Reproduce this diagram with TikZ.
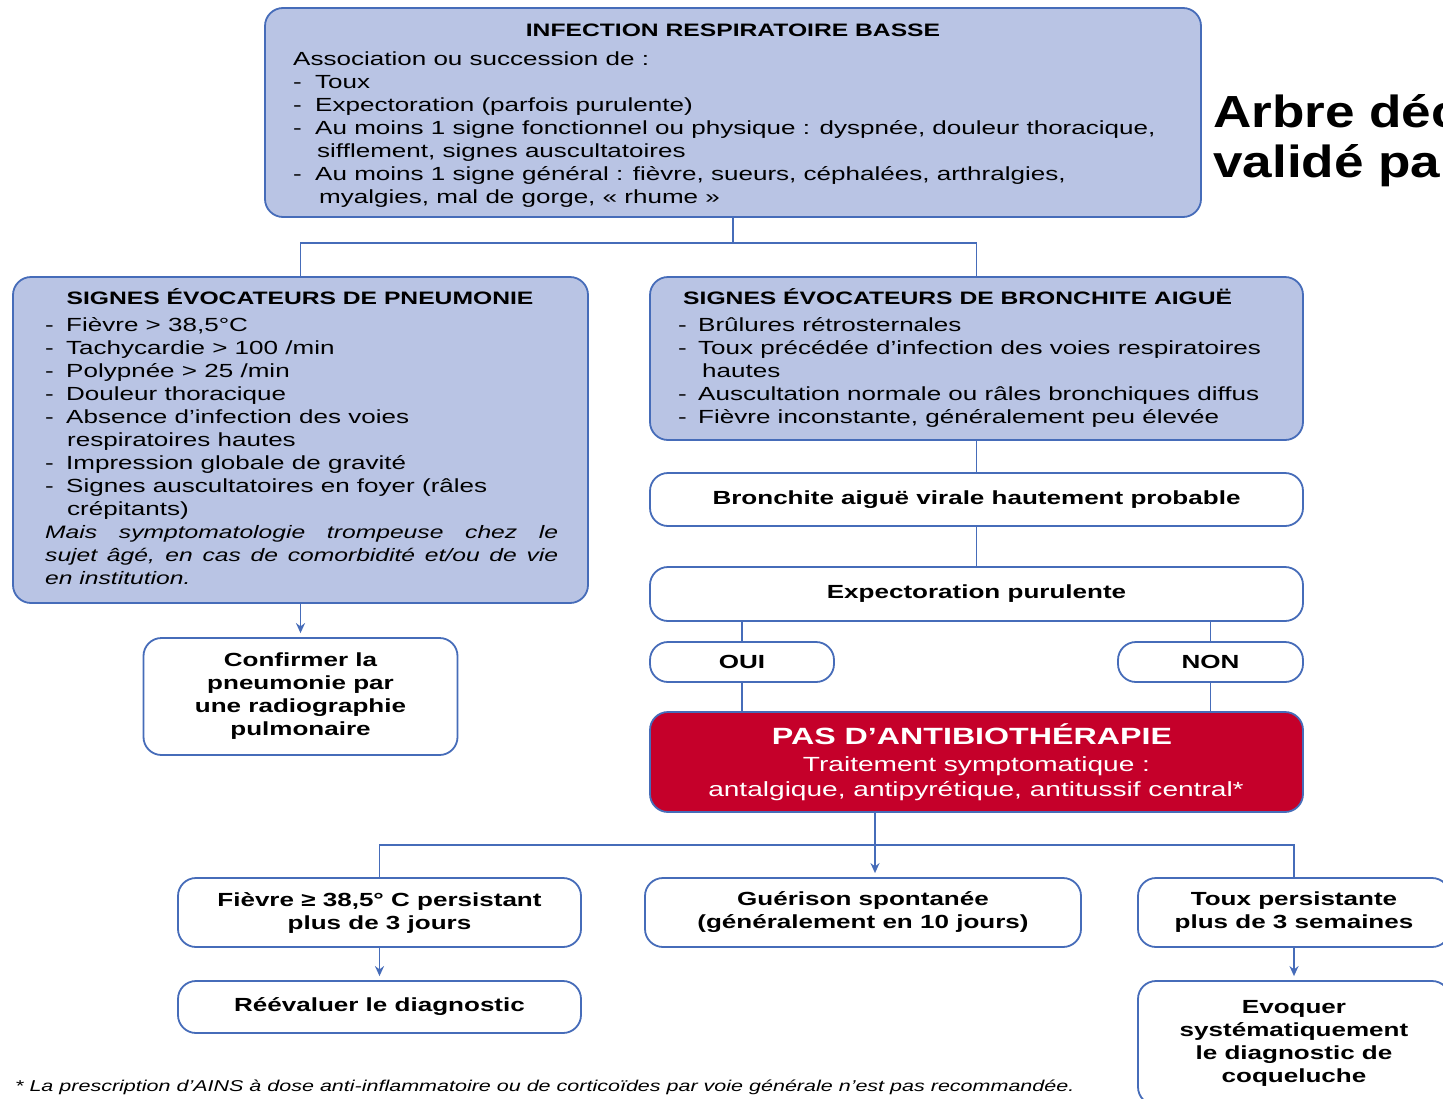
\documentclass[tikz,border=0pt]{standalone}
\usepackage{fontspec}
\setmainfont{Liberation Sans}[FakeStretch=1.37]
\newfontfamily\ttlfont{Liberation Sans}[FakeStretch=1.18]
\usetikzlibrary{arrows.meta}
\definecolor{bfill}{RGB}{185,196,228}
\definecolor{bline}{RGB}{70,108,185}
\definecolor{rfill}{RGB}{197,0,42}
\newcommand\dsh[1][21pt]{\makebox[#1][l]{-}}
\newcommand\ind[1][21pt]{\hspace*{#1}}
\newcommand\Ln[1]{\hbox{#1}}
\newcommand\Jl[1]{\hbox{\itshape\fontsize{18}{23}\selectfont\makebox[513pt][s]{#1}}}
\begin{document}
\begin{tikzpicture}[x=1pt,y=-1pt,
  bluebox/.style={draw=bline,fill=bfill,line width=1.8pt,rounded corners=18pt,inner sep=0pt},
  whitebox/.style={draw=bline,fill=white,line width=1.8pt,rounded corners=18pt,inner sep=0pt,align=center,font=\fontsize{19}{23}\selectfont\bfseries},
  redbox/.style={draw=bline,fill=rfill,line width=1.8pt,rounded corners=18pt,inner sep=0pt},
  conn/.style={draw=bline,line width=1.8pt},
  arr/.style={conn,-{Stealth[length=10pt,width=9pt]},shorten >=4pt},
  body/.style={inner sep=0pt,anchor=base west,font=\fontsize{19}{23}\selectfont},
  ttl/.style={inner sep=0pt,anchor=base,font=\fontsize{18}{22}\selectfont\bfseries},
]
\useasboundingbox (0,0) rectangle (1443,1098);
\fill[white] (0,0) rectangle (1443,1098);
\clip (0,0) rectangle (1443,1098);

% boxes
\node[bluebox,minimum width=936pt,minimum height=209pt] (top) at (733,112.5) {};
\node[bluebox,minimum width=575pt,minimum height=326pt] (pneu) at (300.5,440) {};
\node[bluebox,minimum width=653pt,minimum height=163pt] (bron) at (976.5,358.5) {};
\node[whitebox,minimum width=314pt,minimum height=117pt] (conf) at (300.5,696.5) {Confirmer la\\pneumonie par\\une radiographie\\pulmonaire};
\node[whitebox,minimum width=653pt,minimum height=53pt] (bvir) at (976.5,499.5) {Bronchite aiguë virale hautement probable};
\node[whitebox,minimum width=653pt,minimum height=54pt] (expe) at (976.5,594) {Expectoration purulente};
\node[whitebox,minimum width=184pt,minimum height=40pt] (oui) at (742,662) {OUI};
\node[whitebox,minimum width=185pt,minimum height=40pt] (non) at (1210.5,662) {NON};
\node[redbox,minimum width=653pt,minimum height=100pt] (red) at (976.5,762) {};
\node[whitebox,minimum width=403pt,minimum height=69pt] (fiev) at (379.5,912.5) {Fièvre ≥ 38,5° C persistant\\plus de 3 jours};
\node[whitebox,minimum width=403pt,minimum height=52pt] (reev) at (379.5,1007) {Réévaluer le diagnostic};
\node[whitebox,minimum width=436pt,minimum height=69pt] (guer) at (863,912.5) {Guérison spontanée\\(généralement en 10 jours)};
\node[whitebox,minimum width=312pt,minimum height=69pt] (toux) at (1294,912.5) {Toux persistante\\plus de 3 semaines};
\node[whitebox,minimum width=312pt,minimum height=124pt] (evoq) at (1294,1043) {Evoquer\\systématiquement\\le diagnostic de\\coqueluche};

% texts in blue boxes
\node[ttl] (topttl) at (733,36.5) {INFECTION RESPIRATOIRE BASSE};
\node[body] (toptxt) at (293,65) {\vtop{
 \Ln{Association ou succession de :}
 \Ln{\dsh[22pt]Toux}
 \Ln{\dsh[22pt]Expectoration (parfois purulente)}
 \Ln{\dsh[22pt]Au moins 1 signe fonctionnel ou physique : dyspnée, douleur thoracique,}
 \Ln{\ind[24pt]sifflement, signes auscultatoires}
 \Ln{\dsh[22pt]Au moins 1 signe général : fièvre, sueurs, céphalées, arthralgies,}
 \Ln{\ind[26pt]myalgies, mal de gorge, « rhume »}}};

\node[ttl] (pneuttl) at (300,304.5) {SIGNES ÉVOCATEURS DE PNEUMONIE};
\node[body] (pneutxt) at (45,331) {\vtop{
 \Ln{\dsh Fièvre > 38,5°C}
 \Ln{\dsh Tachycardie > 100 /min}
 \Ln{\dsh Polypnée > 25 /min}
 \Ln{\dsh Douleur thoracique}
 \Ln{\dsh Absence d’infection des voies}
 \Ln{\ind[22pt]respiratoires hautes}
 \Ln{\dsh Impression globale de gravité}
 \Ln{\dsh Signes auscultatoires en foyer (râles}
 \Ln{\ind[22pt]crépitants)}
 \Jl{Mais symptomatologie trompeuse chez le}
 \Jl{sujet âgé, en cas de comorbidité et/ou de vie}
 \Ln{\itshape\fontsize{18}{23}\selectfont en institution.}}};

\node[ttl,anchor=base west] (bronttl) at (683,304.5) {SIGNES ÉVOCATEURS DE BRONCHITE AIGUË};
\node[body] (brontxt) at (678,331) {\vtop{
 \Ln{\dsh[20pt]Brûlures rétrosternales}
 \Ln{\dsh[20pt]Toux précédée d’infection des voies respiratoires}
 \Ln{\ind[24pt]hautes}
 \Ln{\dsh[20pt]Auscultation normale ou râles bronchiques diffus}
 \Ln{\dsh[20pt]Fièvre inconstante, généralement peu élevée}}};

% red box texts
\node[inner sep=0pt,anchor=base,text=white,font=\fontsize{23.5}{26}\selectfont\bfseries] (redttl) at (972,744.5) {PAS D’ANTIBIOTHÉRAPIE};
\node[inner sep=0pt,anchor=base,text=white,font=\fontsize{20.5}{24}\selectfont] (redl1) at (976.5,771) {Traitement symptomatique :};
\node[inner sep=0pt,anchor=base,text=white,font=\fontsize{20.5}{24}\selectfont] (redl2) at (976,796) {antalgique, antipyrétique, antitussif central*};

% connectors
\draw[conn] (top.south) -- ++(0,25) coordinate (j1);
\draw[conn] (j1) -| (pneu.north);
\draw[conn] (j1) -| (bron.north);
\draw[arr] (pneu.south) -- (conf.north);
\draw[conn] (bron.south) -- (bvir.north);
\draw[conn] (bvir.south) -- (expe.north);
\draw[conn] (oui.north |- expe.south) -- (oui.north);
\draw[conn] (non.north |- expe.south) -- (non.north);
\draw[conn] (oui.south) -- (oui.south |- red.north);
\draw[conn] (non.south) -- (non.south |- red.north);
\coordinate (j2) at (875,845);
\draw[arr] (j2 |- red.south) -- (j2 |- guer.north);
\draw[conn] (fiev.north) |- (j2) -| (toux.north);
\draw[arr] (fiev.south) -- (reev.north);
\draw[arr] (toux.south) -- (evoq.north);

% footnote
\node[inner sep=0pt,anchor=base west,font=\fontsize{15.7}{18}\selectfont\itshape] (fn) at (15,1091) {* La prescription d’AINS à dose anti-inflammatoire ou de corticoïdes par voie générale n’est pas recommandée.};

% side title
\node[inner sep=0pt,anchor=base west,font=\ttlfont\fontsize{45}{50}\selectfont\bfseries] (t1) at (1213,127) {Arbre déc};
\node[inner sep=0pt,anchor=base west,font=\ttlfont\fontsize{45}{50}\selectfont\bfseries] (t2) at (1213,177) {validé pa};
\end{tikzpicture}
\end{document}
